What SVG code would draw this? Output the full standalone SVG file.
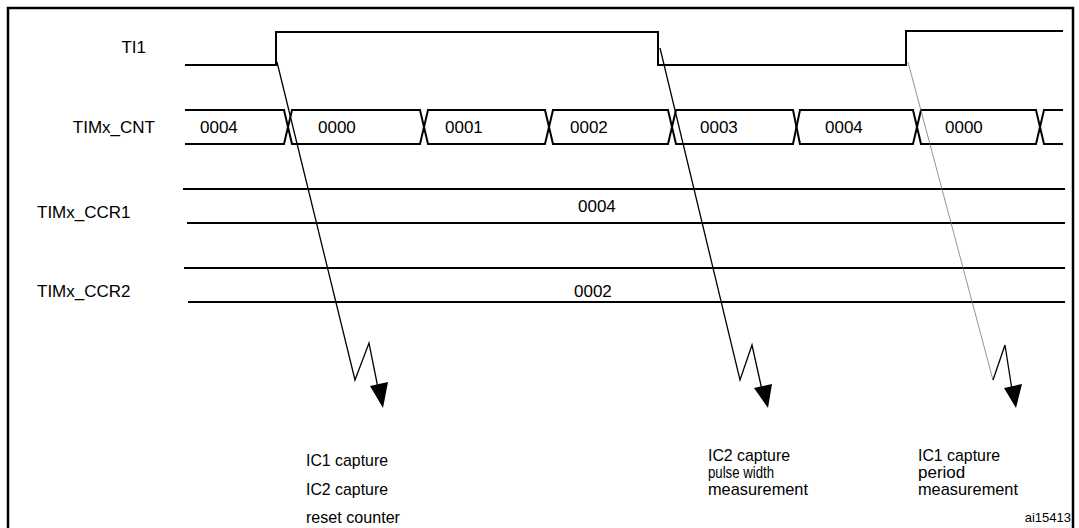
<svg xmlns="http://www.w3.org/2000/svg" width="1079" height="528" viewBox="0 0 1079 528">
<style>
.s{fill:none;stroke:#000;stroke-width:2}
.t{fill:none;stroke:#000;stroke-width:1.3}
.l{font-family:"Liberation Sans",Arial,sans-serif;font-size:17px;fill:#000}
.n{font-family:"Liberation Sans",Arial,sans-serif;font-size:17px;fill:#000}
</style>
<rect x="0" y="0" width="1079" height="528" fill="#fff"/>
<path d="M8,528 V8 H1073 V528" fill="none" stroke="#000" stroke-width="2.5"/>
<g id="labels">
<text class="l" x="146" y="53" text-anchor="end">TI1</text>
<text class="l" x="155" y="133" text-anchor="end">TIMx_CNT</text>
<text class="l" x="37" y="218">TIMx_CCR1</text>
<text class="l" x="37" y="297">TIMx_CCR2</text>
</g>
<g id="TI1"><path class="s" d="M185,65 H276 V32 H658 V65 H906 V31 H1063"/></g>
<g id="CNT">
<path class="s" d="M185,110 H284 L292,144 H420 L428,110 H545 L553,144 H668 L676,110 H793 L800,144 H913 L921,110 H1036 L1044,144 H1063"/>
<path class="s" d="M185,144 H284 L292,110 H420 L428,144 H545 L553,110 H668 L676,144 H793 L800,110 H913 L921,144 H1036 L1044,110 H1063"/>
<text class="l" x="200" y="133">0004</text>
<text class="l" x="318" y="133">0000</text>
<text class="l" x="445" y="133">0001</text>
<text class="l" x="570" y="133">0002</text>
<text class="l" x="700" y="133">0003</text>
<text class="l" x="825" y="133">0004</text>
<text class="l" x="945" y="133">0000</text>
</g>
<g id="CCR1">
<path class="s" d="M183,189 H1065 M187,223 H1065"/>
<text class="l" x="578" y="212">0004</text>
</g>
<g id="CCR2">
<path class="s" d="M184,268 H1065 M188,302 H1065"/>
<text class="l" x="574" y="297">0002</text>
</g>
<g id="connectors">
<path class="t" d="M277,62 L355,380 L369,343 L378,388"/>
<polygon points="370,386 388,382 383,408"/>
<path class="t" d="M660,48 L740,380 L752,345 L762,390"/>
<polygon points="754,388 772,384 768,408"/>
<path fill="none" stroke="#777" stroke-width="0.8" d="M908,62 L993,380"/>
<path class="t" d="M993,380 L1005,345 L1012,390"/>
<polygon points="1004,388 1022,384 1016,408"/>
</g>
<g id="notes">
<text class="n" x="306" y="466" textLength="82" lengthAdjust="spacingAndGlyphs">IC1 capture</text>
<text class="n" x="306" y="495" textLength="82" lengthAdjust="spacingAndGlyphs">IC2 capture</text>
<text class="n" x="306" y="523" textLength="94" lengthAdjust="spacingAndGlyphs">reset counter</text>
<text class="n" x="708" y="461" textLength="82" lengthAdjust="spacingAndGlyphs">IC2 capture</text>
<text class="n" x="708" y="478" textLength="66" lengthAdjust="spacingAndGlyphs">pulse width</text>
<text class="n" x="708" y="495" textLength="100" lengthAdjust="spacingAndGlyphs">measurement</text>
<text class="n" x="918" y="461" textLength="82" lengthAdjust="spacingAndGlyphs">IC1 capture</text>
<text class="n" x="918" y="478">period</text>
<text class="n" x="918" y="495" textLength="100" lengthAdjust="spacingAndGlyphs">measurement</text>
<text class="n" x="1071" y="522" text-anchor="end" style="font-size:13px">ai15413</text>
</g>
</svg>
